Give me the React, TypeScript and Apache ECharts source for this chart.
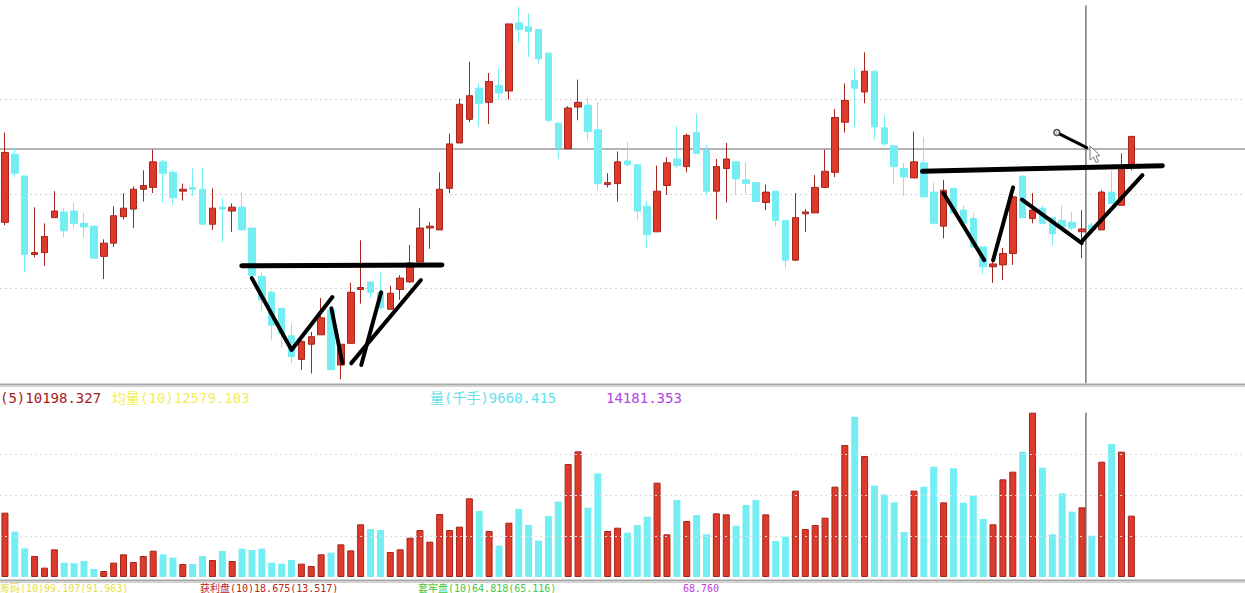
import React, { useEffect, useRef } from 'react';
import * as echarts from 'echarts';

const opens = [10.70,11.42,11.19,10.36,10.38,10.75,10.81,10.82,10.69,10.66,10.34,10.48,10.76,10.84,11.05,11.07,11.34,11.23,11.03,11.07,11.05,10.68,10.86,10.82,10.86,10.64,10.13,9.96,9.79,9.50,9.25,9.41,9.51,9.77,9.19,9.42,9.99,10.07,9.96,9.78,9.99,10.07,10.28,10.64,10.62,11.06,11.54,11.79,12.12,11.97,12.15,12.09,12.81,12.77,12.74,12.49,11.75,11.48,11.92,11.94,11.68,11.10,11.11,11.35,11.31,10.87,10.60,11.09,11.37,11.29,11.65,11.46,11.03,11.27,11.34,11.15,11.12,10.91,11.03,10.72,10.30,10.79,10.80,11.07,11.23,11.76,12.20,12.08,12.30,11.70,11.51,11.27,11.17,11.33,11.02,10.66,11.06,10.83,10.74,10.44,10.23,10.25,10.37,11.19,10.74,10.85,10.75,10.72,10.70,10.60,10.67,10.62,11.02,10.88,11.28];
const closes = [11.44,11.22,10.36,10.38,10.55,10.82,10.61,10.69,10.65,10.32,10.48,10.77,10.85,11.05,11.09,11.34,11.22,10.96,11.05,11.05,10.68,10.85,10.84,10.86,10.62,10.14,9.88,9.61,9.52,9.28,9.44,9.49,9.69,9.14,9.41,9.96,10.01,9.96,9.80,9.95,10.11,10.27,10.64,10.66,11.05,11.53,11.95,12.04,11.96,12.19,12.07,12.80,12.74,12.72,12.43,11.78,11.49,11.91,11.97,11.66,11.11,11.12,11.34,11.31,10.82,10.57,11.03,11.33,11.30,11.62,11.43,11.03,11.29,11.37,11.16,11.11,10.92,11.02,10.72,10.30,10.75,10.81,11.07,11.24,11.81,11.99,12.12,12.30,11.71,11.53,11.29,11.18,11.34,10.97,10.69,11.04,10.80,10.69,10.44,10.23,10.26,10.37,10.97,10.75,10.83,10.69,10.58,10.65,10.64,10.63,10.62,11.02,10.90,11.30,11.61];
const lows = [10.67,11.18,10.17,10.33,10.24,10.75,10.54,10.64,10.54,10.32,10.10,10.44,10.73,10.64,10.92,11.01,10.91,10.89,10.93,10.98,10.68,10.62,10.49,10.60,10.62,10.11,9.77,9.45,9.37,9.21,9.14,9.10,9.51,9.14,9.04,9.42,9.84,9.90,9.77,9.78,9.88,10.06,10.28,10.42,10.62,11.01,11.54,11.76,11.71,11.74,12.00,12.00,12.60,12.45,12.38,11.76,11.37,11.48,11.78,11.57,11.04,11.07,10.92,11.29,10.72,10.43,10.60,10.99,11.27,11.23,11.43,10.99,10.73,10.91,11.00,11.01,10.92,10.83,10.65,10.22,10.29,10.60,10.80,11.07,11.18,11.65,11.70,11.96,11.58,11.51,11.11,10.98,11.17,10.97,10.69,10.53,10.80,10.66,10.43,10.15,10.06,10.09,10.25,10.75,10.69,10.69,10.46,10.65,10.62,10.32,10.60,10.62,10.90,10.88,11.25];
const highs = [11.65,11.49,11.19,10.86,10.69,11.03,10.85,10.91,10.80,10.66,10.52,10.87,11.01,11.08,11.25,11.47,11.36,11.25,11.11,11.27,11.28,11.06,10.95,10.90,11.02,10.64,10.17,9.98,9.80,9.63,9.45,9.54,9.90,9.82,9.41,10.06,10.51,10.07,10.17,10.03,10.14,10.46,10.85,10.70,11.23,11.64,12.01,12.40,12.17,12.28,12.33,12.80,12.98,12.91,12.74,12.50,11.76,11.93,12.21,12.02,11.97,11.22,11.45,11.55,11.31,10.93,11.30,11.39,11.72,11.64,11.85,11.52,11.37,11.54,11.34,11.34,11.12,11.10,11.03,10.72,11.01,10.84,11.20,11.47,11.90,12.17,12.33,12.50,12.30,11.83,11.51,11.33,11.66,11.60,11.12,11.15,11.06,10.88,10.80,10.44,10.30,10.43,11.07,11.19,11.01,10.88,10.75,10.88,10.81,10.83,10.70,11.04,11.25,11.43,11.61];
const volumes = [15690,11060,6990,5120,2280,6750,3500,3330,3900,1950,1460,3500,5530,3660,5120,6420,5530,4720,3170,3170,5120,4150,6340,3900,6910,6590,6910,3500,3250,4150,3250,2680,5530,5930,7970,6500,12850,11710,11460,6100,6750,9590,11460,8620,15370,11460,12280,19190,16100,11220,7640,13250,16590,12680,8860,14880,18370,27560,30650,16910,25280,11220,12030,10810,12680,14720,23010,10410,18780,13660,15120,10410,15530,15280,12520,17560,18780,15280,8780,9840,21060,11710,12680,14470,22030,32190,39100,29510,22280,20160,18210,10980,21060,22030,26910,18210,26500,18130,19840,14150,12850,23820,25690,30570,40080,26670,10410,20410,15930,16990,10080,28130,32440,30570,14960];

const slots = 126;
const categories = Array.from({ length: slots }, (_, i) => String(i + 1));
const priceGrid = [10, 11, 12];
const volumeGrid = [10000, 20000, 30000];
const crossIndex = 109.4;
const crossPrice = 11.48;
const crossTopPrice = 12.99;

// hand-drawn annotation strokes, in [index, price]
const thickLines = [
  [[23.97, 10.24], [44.22, 10.25]],
  [[92.86, 11.24], [117.13, 11.30]],
];
const strokeLines = [
  [[24.98, 10.11], [29.01, 9.35], [33.14, 9.91]],
  [[33.04, 9.79], [34.15, 9.21]],
  [[35.05, 9.21], [42.10, 10.09]],
  [[36.06, 9.19], [38.07, 9.96]],
  [[94.98, 11.01], [99.11, 10.30]],
  [[100.01, 10.30], [102.03, 11.07]],
  [[102.93, 10.94], [108.98, 10.48]],
  [[109.08, 10.51], [115.12, 11.20]],
];
const pointerLine = [[106.46, 11.65], [109.48, 11.49]];

const UP = '#de3a2c';
const UP_EDGE = '#a3261c';
const DOWN = '#74eef2';

const headerTexts = [
  { text: '(5)10198.327', x: 0, color: '#a3201b' },
  { text: '均量(10)12579.103', x: 112, color: '#f2ee5e' },
  { text: '量(千手)9660.415', x: 430, color: '#5fe2ee' },
  { text: '14181.353', x: 606, color: '#b144e0' },
];
const footerTexts = [
  { text: '筹码(10)99.107(91.963)', x: 0, color: '#e6de4a' },
  { text: '获利盘(10)18.675(13.517)', x: 200, color: '#b3241b' },
  { text: '套牢盘(10)64.818(65.116)', x: 418, color: '#45c845' },
  { text: '68.760', x: 683, color: '#c040e0' },
];

const FONT = '"DejaVu Sans Mono", "Noto Sans CJK SC", monospace';

export default function App() {
  const ref = useRef<HTMLDivElement>(null);
  useEffect(() => {
    if (!ref.current) return;
    const chart = echarts.init(ref.current, null, { renderer: 'svg' });
    const candleData = opens.map((o, i) => [o, closes[i], lows[i], highs[i]]);
    const volData = volumes.map((v, i) => ({
      value: v,
      itemStyle: closes[i] >= opens[i]
        ? { color: UP, borderColor: UP_EDGE, borderWidth: 1 }
        : { color: DOWN, borderColor: DOWN, borderWidth: 0 },
    }));

    const lineSeries = (data: number[][], width: number, z = 6, xi = 2, yi = 0, color = '#000') => ({
      type: 'line',
      xAxisIndex: xi,
      yAxisIndex: yi,
      data,
      symbol: 'none',
      silent: true,
      z,
      lineStyle: { color, width, cap: 'round', join: 'round' },
    });

    const graphics: any[] = [
      { type: 'rect', shape: { x: 0, y: 383, width: 1245, height: 4 }, style: { fill: '#d2d2d2' }, z: 10 },
      { type: 'line', shape: { x1: 0, y1: 384.5, x2: 1245, y2: 384.5 }, style: { stroke: '#a8a8a8', lineWidth: 1 }, z: 11 },
      { type: 'rect', shape: { x: 0, y: 579, width: 1245, height: 4 }, style: { fill: '#d2d2d2' }, z: 10 },
      { type: 'line', shape: { x1: 0, y1: 580.5, x2: 1245, y2: 580.5 }, style: { stroke: '#a8a8a8', lineWidth: 1 }, z: 11 },
      {
        type: 'polygon',
        shape: { points: [[1090, 146], [1090, 160], [1093.5, 157], [1096, 162.5], [1098.5, 161.5], [1096, 156], [1100, 155.5]] },
        style: { fill: '#ffffff', stroke: '#777', lineWidth: 1 },
        z: 20,
      },
    ];
    headerTexts.forEach((t) => graphics.push({
      type: 'text', x: t.x, y: 398, z: 12,
      style: { text: t.text, fill: t.color, fontSize: 14, fontFamily: FONT, verticalAlign: 'middle' },
    }));
    footerTexts.forEach((t) => graphics.push({
      type: 'text', x: t.x, y: 588.5, z: 12,
      style: { text: t.text, fill: t.color, fontSize: 10, fontFamily: FONT, verticalAlign: 'middle' },
    }));

    const option: any = {
      animation: false,
      backgroundColor: '#ffffff',
      grid: [
        { left: -1, width: 1251, top: 0, height: 383 },
        { left: -1, width: 1251, top: 400, height: 177 },
      ],
      xAxis: [
        { type: 'category', gridIndex: 0, data: categories, show: false },
        { type: 'category', gridIndex: 1, data: categories, show: false },
        { type: 'value', gridIndex: 0, min: -0.5, max: slots - 0.5, show: false },
        { type: 'value', gridIndex: 1, min: -0.5, max: slots - 0.5, show: false },
      ],
      yAxis: [
        { type: 'value', gridIndex: 0, min: 9, max: 13.053, show: false, scale: true },
        { type: 'value', gridIndex: 1, min: 0, max: 43170, show: false },
      ],
      graphic: graphics,
      series: [
        {
          type: 'candlestick',
          xAxisIndex: 0,
          yAxisIndex: 0,
          data: candleData,
          barWidth: 7,
          z: 3,
          itemStyle: { color: UP, color0: DOWN, borderColor: UP_EDGE, borderColor0: DOWN, borderWidth: 1 },
          markLine: {
            silent: true,
            symbol: 'none',
            label: { show: false },
            z: 1,
            data: [
              ...priceGrid.map((v) => ({ yAxis: v, lineStyle: { color: '#d4d4d4', type: [2, 3], width: 1 } })),
              { yAxis: crossPrice, lineStyle: { color: '#9a9a9a', type: 'solid', width: 1.5 } },
            ],
          },
        },
        {
          type: 'bar',
          xAxisIndex: 1,
          yAxisIndex: 1,
          data: volData,
          barWidth: 7,
          z: 3,
          markLine: {
            silent: true,
            symbol: 'none',
            label: { show: false },
            lineStyle: { color: '#dcdcdc', type: [2, 3], width: 1 },
            data: volumeGrid.map((v) => ({ yAxis: v })),
          },
        },
        lineSeries([[crossIndex, 9.0], [crossIndex, crossTopPrice]], 1.2, 5, 2, 0, '#555'),
        lineSeries([[crossIndex, 0], [crossIndex, 40000]], 1.2, 5, 3, 1, '#555'),
        ...thickLines.map((d) => lineSeries(d, 5)),
        ...strokeLines.map((d) => lineSeries(d, 4)),
        lineSeries(pointerLine, 3),
        {
          type: 'scatter',
          xAxisIndex: 2,
          yAxisIndex: 0,
          data: [pointerLine[0]],
          symbol: 'circle',
          symbolSize: 6,
          silent: true,
          z: 7,
          itemStyle: { color: '#ffffff', borderColor: '#222', borderWidth: 1.5 },
        },
      ],
    };
    chart.setOption(option);
    return () => chart.dispose();
  }, []);
  return (
    <div
      ref={ref}
      style={{ position: 'fixed', left: 0, top: 0, width: 1245, height: 593, background: '#fff' }}
    />
  );
}
